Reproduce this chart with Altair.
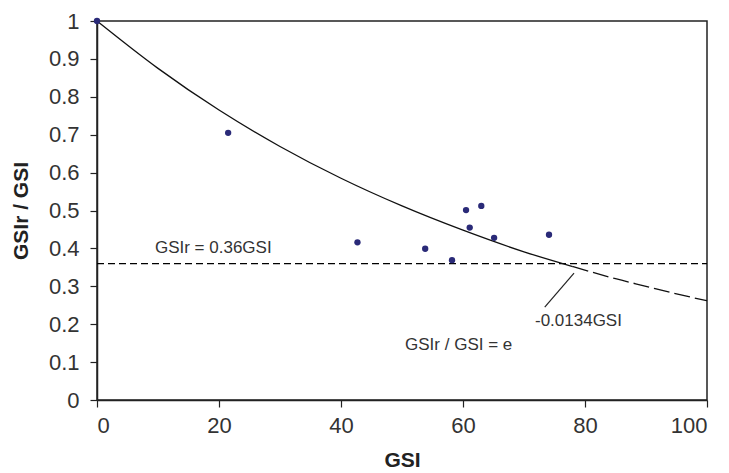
import altair as alt
import pandas as pd

# Observed points
gsi = [0, 21.5, 42.7, 53.8, 58.2, 60.5, 61.1, 63.0, 65.1, 74.1]
ratio = [1.0, 0.705, 0.416, 0.399, 0.369, 0.501, 0.455, 0.512, 0.428, 0.436]

# Fitted curve, solid part and extrapolated dashed part
curve_x_solid = [0, 10, 20, 30, 40, 50, 60, 70, 78]
curve_y_solid = [1.0, 0.875, 0.765, 0.669, 0.585, 0.512, 0.448, 0.391, 0.352]
curve_x_dash = [78, 85, 90, 95, 100]
curve_y_dash = [0.352, 0.320, 0.300, 0.280, 0.262]

# Threshold line
thr_x = [0, 100]
thr_y = [0.36, 0.36]

# Annotations
ann_text = ["GSIr = 0.36GSI", "-0.0134GSI", "GSIr / GSI = e"]
ann_x = [9.5, 71.8, 50.5]
ann_y = [0.402, 0.208, 0.145]

arrow_x = [73.4]
arrow_y = [0.245]
arrow_x2 = [78.2]
arrow_y2 = [0.335]

xs = alt.Scale(domain=[0, 100], nice=False)
ys = alt.Scale(domain=[0, 1], nice=False)

pts = pd.DataFrame({"x": gsi, "y": ratio})
solid = pd.DataFrame({"x": curve_x_solid, "y": curve_y_solid})
dash = pd.DataFrame({"x": curve_x_dash, "y": curve_y_dash})
thr = pd.DataFrame({"x": thr_x, "y": thr_y})
ann = pd.DataFrame({"t": ann_text, "x": ann_x, "y": ann_y})
arr = pd.DataFrame({"x": arrow_x, "y": arrow_y, "x2": arrow_x2, "y2": arrow_y2})

xaxis = alt.Axis(values=[0, 20, 40, 60, 80, 100], title="GSI", grid=False)
yaxis = alt.Axis(values=[0, 0.1, 0.2, 0.3, 0.4, 0.5, 0.6, 0.7, 0.8, 0.9, 1.0],
                 format="~g", title="GSIr / GSI", grid=False)

base_x = alt.X("x:Q", scale=xs, axis=xaxis)
base_y = alt.Y("y:Q", scale=ys, axis=yaxis)

thr_layer = alt.Chart(thr).mark_line(color="black", strokeWidth=1.3, strokeDash=[7, 4]).encode(
    x=base_x, y=base_y)
solid_layer = alt.Chart(solid).mark_line(color="#111", strokeWidth=1.3, interpolate="monotone").encode(
    x=base_x, y=base_y)
dash_layer = alt.Chart(dash).mark_line(color="#111", strokeWidth=1.3, interpolate="monotone",
                                      strokeDash=[16, 5]).encode(x=base_x, y=base_y)
pt_layer = alt.Chart(pts).mark_point(filled=True, size=40, color="#2a2a78", opacity=1,
                                     clip=False).encode(x=base_x, y=base_y)
arrow_layer = alt.Chart(arr).mark_rule(color="#222", strokeWidth=1.2).encode(
    x=base_x, y=base_y, x2="x2:Q", y2="y2:Q")
text_layer = alt.Chart(ann).mark_text(align="left", baseline="middle", fontSize=17,
                                      font="Liberation Sans", color="#333").encode(
    x=base_x, y=base_y, text="t:N")

chart = alt.layer(thr_layer, solid_layer, dash_layer, arrow_layer, pt_layer, text_layer).properties(
    width=610, height=379,
    autosize=alt.AutoSizeParams(type="none"),
    padding={"left": 89, "top": 13, "right": 14, "bottom": 72},
).configure_view(stroke="#222", strokeWidth=1.5).configure_axis(
    labelFont="Liberation Sans", titleFont="Liberation Sans",
    labelFontSize=22, labelColor="#333", titleFontSize=21, titleFontWeight="bold",
    titleColor="#222", domainColor="#222", domainWidth=1.5, tickColor="#222",
    tickSize=7, tickWidth=1.2,
).configure_axisY(titlePadding=17, labelPadding=11).configure_axisX(titlePadding=13, labelPadding=8)

chart.save("out.html", embed_options={"renderer": "svg", "actions": False})
